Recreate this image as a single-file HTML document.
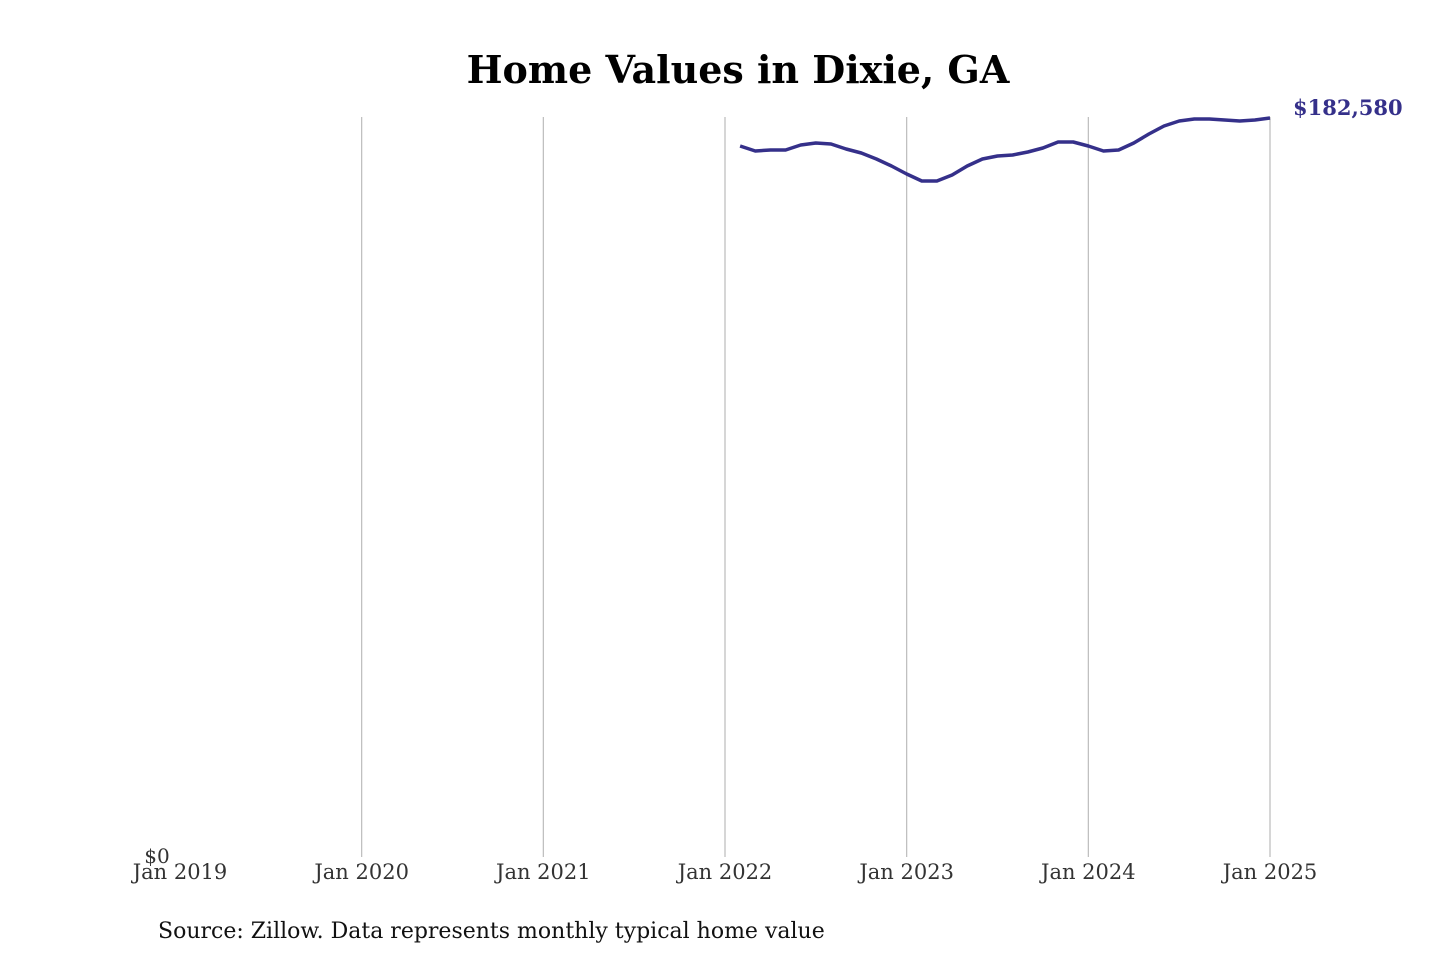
<!DOCTYPE html>
<html><head><meta charset="utf-8"><style>
body{margin:0;background:#fff;}
svg text{font-family:"DejaVu Serif","Liberation Serif",serif;}
</style></head><body>
<svg width="1440" height="960" viewBox="0 0 1440 960">
<text x="738" y="83" text-anchor="middle" font-size="38" font-weight="bold" fill="#000">Home Values in Dixie, GA</text>
<g id="grid"></g>
<g id="xticks"></g>
<text x="157" y="863" text-anchor="middle" font-size="20" fill="#333">$0</text>
<path id="line" fill="none" stroke="#35308a" stroke-width="3.5" stroke-linejoin="round"></path>
<text id="endlabel" font-size="21" font-weight="bold" fill="#35308a"></text>
<text x="158" y="938" font-size="22" fill="#111">Source: Zillow. Data represents monthly typical home value</text>
</svg>
<script>
const yearLabels=["Jan 2019","Jan 2020","Jan 2021","Jan 2022","Jan 2023","Jan 2024","Jan 2025"];
const startMonth=[2022,2];
const values=[175660,174420,174670,174670,175910,176400,176150,174920,173930,172450,170720,168740,167010,167010,168490,170720,172450,173190,173430,174180,175160,176650,176650,175660,174420,174670,176400,178620,180600,181840,182330,182330,182080,181840,182080,182580];
const latestLabel="$182,580";
const NS="http://www.w3.org/2000/svg";
const x0=180,x1=1270,yBase=857,yTop=118,vMax=182580;
function xScale(yearFrac){return x0+(yearFrac-2019)/6*(x1-x0);}
function yScale(v){return yBase-v/vMax*(yBase-yTop);}
const grid=document.getElementById('grid'),xt=document.getElementById('xticks');
yearLabels.forEach((l,i)=>{
  const x=xScale(2019+i);
  if(i>0){const ln=document.createElementNS(NS,'line');
    ln.setAttribute('x1',x);ln.setAttribute('x2',x);ln.setAttribute('y1',117);ln.setAttribute('y2',yBase);
    ln.setAttribute('stroke','#bbb');ln.setAttribute('stroke-width','1.2');
    
    
    grid.appendChild(ln);}
  const t=document.createElementNS(NS,'text');
  t.setAttribute('x',x);t.setAttribute('y',879);t.setAttribute('text-anchor','middle');
  t.setAttribute('font-size','21');t.setAttribute('fill','#333');t.textContent=l;
  
  
  xt.appendChild(t);
});
let d='',lx,ly;
values.forEach((v,i)=>{
  const m=startMonth[1]-1+i;const yf=startMonth[0]+m/12;
  lx=xScale(yf);ly=yScale(v);d+=(i?'L':'M')+lx.toFixed(1)+','+ly.toFixed(1);
});
document.getElementById('line').setAttribute('d',d);
const el=document.getElementById('endlabel');
el.setAttribute('x',lx+23);el.setAttribute('y',ly-3);el.textContent=latestLabel;
</script>
</body></html>
